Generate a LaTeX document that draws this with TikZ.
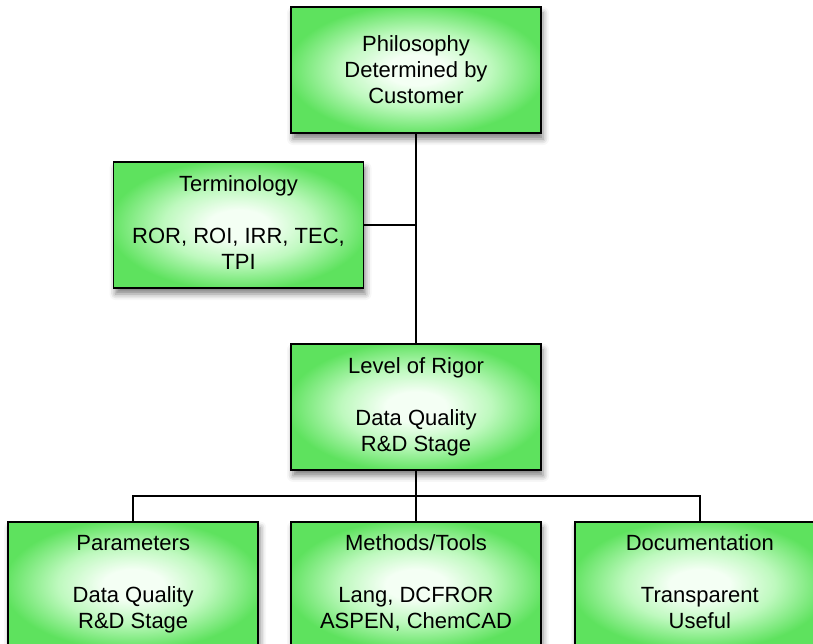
\documentclass[tikz,border=0pt]{standalone}
\usepackage{fontspec}
\setmainfont{Liberation Sans}
\usetikzlibrary{positioning,calc,shadows.blur}

\definecolor{boxgreen}{RGB}{94,226,94}
\definecolor{boxmid}{RGB}{190,249,190}
\definecolor{boxlight}{RGB}{244,255,244}
\pgfdeclareradialshading{boxglow}{\pgfpoint{0bp}{0bp}}{%
  color(0bp)=(boxlight); color(6bp)=(boxlight); color(15bp)=(boxmid); color(26bp)=(boxgreen); color(50bp)=(boxgreen)}

\begin{document}
\begin{tikzpicture}[line width=1.8pt,
                    box/.style={draw,align=center,
                                minimum width=250pt,minimum height=126pt,
                                shading=boxglow,
                                font=\fontsize{22}{26}\selectfont,
                                blur shadow={shadow xshift=2pt,shadow yshift=-6pt,
                                             shadow blur radius=6pt,shadow opacity=50}}]
  \useasboundingbox (0,0) rectangle (813pt,-644pt);
  \node[box] (philosophy) at (416pt,-70pt) {Philosophy\\Determined by\\Customer};
  \node[box] (terminology) at (238.5pt,-225pt) {\strut Terminology\\[26pt]ROR, ROI, IRR, TEC,\\TPI\strut};
  \node[box,below=209pt of philosophy] (rigor) {\strut Level of Rigor\\[26pt]Data Quality\\R\&D Stage\strut};
  % bottom row hangs off the rigor box; the page cuts it at the foot
  \node[box,below=50pt of rigor] (methods) {\strut Methods/Tools\\[26pt]Lang, DCFROR\\ASPEN, ChemCAD\strut};
  \node[box,left=31pt of methods] (parameters) {\strut Parameters\\[26pt]Data Quality\\R\&D Stage\strut};
  \node[box,right=32pt of methods] (documentation) {\strut Documentation\\[26pt]Transparent\\Useful\strut};
  \coordinate (bus) at ($(rigor.south)!0.5!(methods.north)$);
  \draw (philosophy) -- (rigor);
  \draw (terminology.east) -- (terminology.east -| philosophy.south);
  \draw (rigor) -- (methods);
  \draw (parameters.north) |- (bus) -| (documentation.north);
\end{tikzpicture}
\end{document}
